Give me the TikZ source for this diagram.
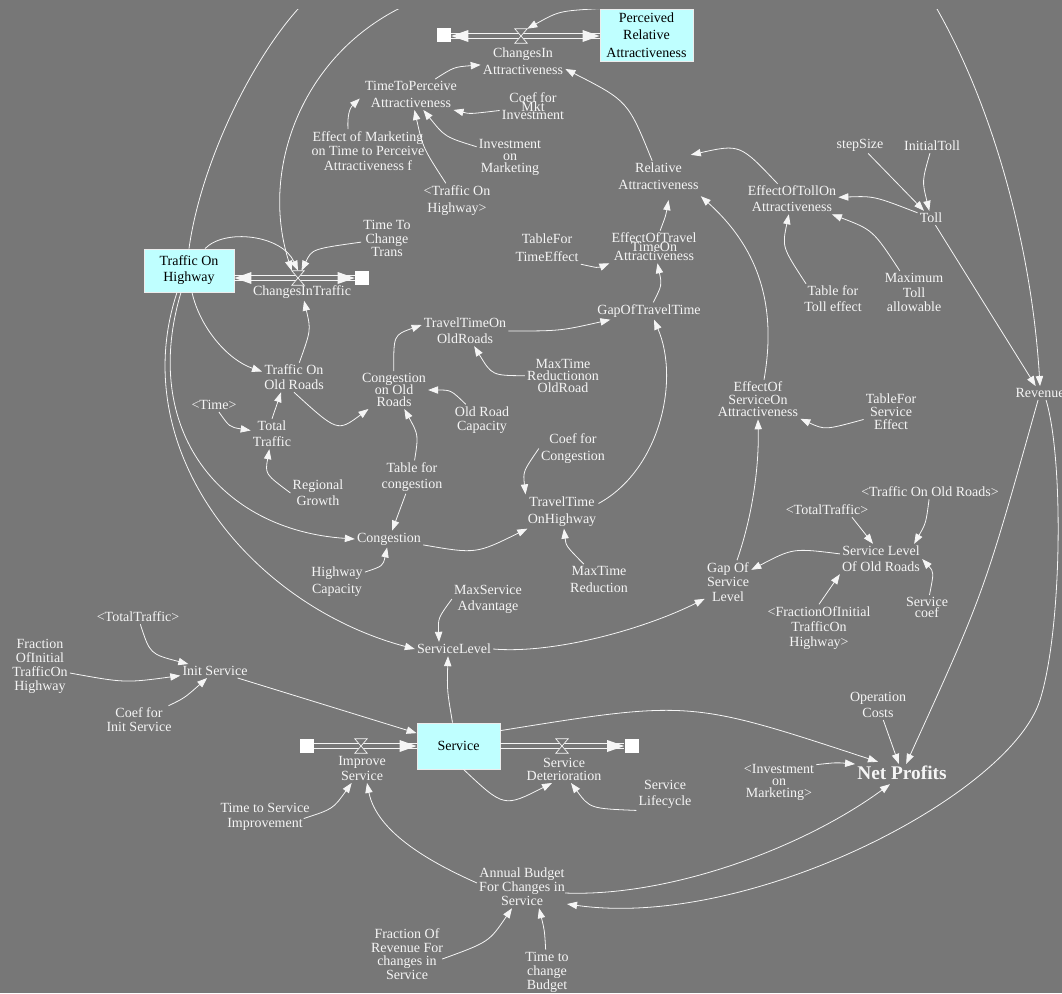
\documentclass[tikz,border=0pt]{standalone}
\usepackage{fontspec}
\setmainfont{Liberation Serif}
\usetikzlibrary{arrows.meta,calc}
\definecolor{bg}{RGB}{119,119,119}
\definecolor{stockfill}{RGB}{191,255,255}
\definecolor{fg}{RGB}{245,245,245}
\newcommand\lh[1]{\fontsize{10.5}{#1}\selectfont\lineskiplimit=-50pt\relax}

\begin{document}
\begin{tikzpicture}[x=0.75pt,y=-0.75pt,
  lbl/.style={text=fg, align=center, inner sep=1.5pt, font=\lh{#1}},
  lbl/.default=11.25,
  stock/.style={draw=white!85!gray, line width=0.6pt, fill=stockfill, text=black,
                align=center, inner sep=0pt, font=\lh{#1}},
  stock/.default=12,
  link/.style={draw=fg, line width=0.6pt, -{Triangle[length=7.5pt,width=5.5pt]}},
  pipeline/.style={draw=fg, line width=0.6pt},
  flowtip/.style={fill=fg},
  valve/.style={minimum width=9pt, minimum height=10.5pt, inner sep=0pt},
  valveline/.style={draw=fg, line width=0.5pt, fill=bg},
  cloudsq/.style={fill=white, minimum size=10.5pt, inner sep=0pt}
]
\fill[bg] (0,0) rectangle (1062,993);
\useasboundingbox (0,0) rectangle (1062,993);

\begin{scope}
\clip (0,9) rectangle (1062,993);

% ---------- stocks ----------
\node[stock=13.1, minimum width=69.75pt, minimum height=39pt] (perc) at (646.5,35) {Perceived\\Relative\\Attractiveness};
\node[stock=12, minimum width=67.5pt, minimum height=32.25pt] (toh) at (189,270.5) {Traffic On\\Highway};
\node[stock=12, minimum width=62.25pt, minimum height=34.5pt] (svc) at (458.5,746) {Service};

% ---------- sources, sinks and valves ----------
\node[cloudsq] (cA) at (444,35) {};
\node[valve] (vA) at (521,36) {};
\node[cloudsq] (cT) at (362,278) {};
\node[valve] (vT) at (298,278) {};
\node[cloudsq] (cI) at (306.5,746) {};
\node[valve] (vI) at (361,746) {};
\node[valve] (vD) at (562,746) {};
\node[cloudsq] (cD) at (631.5,746) {};

% ---------- auxiliaries ----------
\node[lbl=12.75] (cia) at (523,61.5) {ChangesIn\\Attractiveness};
\node[lbl=12.75] (ttp) at (411,94.5) {TimeToPerceive\\Attractiveness};
\node[lbl=6.4] (coefmkt) at (533,106.5) {Coef for\\Mkt\\Investment};
\node[lbl=10.9] (effmkt) at (368,151) {Effect of Marketing\\on Time to Perceive\\Attractiveness f};
\node[lbl=9] (invmkt) at (510,157) {Investment\\on\\Marketing};
\node[lbl=12.75] (tohs) at (457,200.5) {<Traffic On\\Highway>};
\node[lbl=12.75] (rel) at (658.5,176.5) {Relative\\Attractiveness};
\node[lbl] (stepsz) at (860,145) {stepSize};
\node[lbl] (itoll) at (932,146) {InitialToll};
\node[lbl=12] (efftoll) at (792,199) {EffectOfTollOn\\Attractiveness};
\node[lbl] (toll) at (931,218) {Toll};
\node[lbl=13.5] (tbltime) at (547,248) {TableFor\\TimeEffect};
\node[lbl=6.75] (efftt) at (654,247) {EffectOfTravel\\TimeOn\\Attractiveness};
\node[lbl=10.1] (ttct) at (387,238.5) {Time To\\Change\\Trans};
\node[lbl] (cit) at (302,292) {ChangesInTraffic};
\node[lbl=12] (tbltoll) at (833,299) {Table for\\Toll effect};
\node[lbl=10.9] (maxtoll) at (914,292.5) {Maximum\\Toll\\allowable};
\node[lbl] (gaptt) at (649,311) {GapOfTravelTime};
\node[lbl=12] (ttold) at (465,331) {TravelTimeOn\\OldRoads};
\node[lbl=11.25] (tor) at (294,377.5) {Traffic On\\Old Roads};
\node[lbl=9] (congold) at (394,390) {Congestion\\on Old\\Roads};
\node[lbl=9] (maxtold) at (563,376) {MaxTime\\Reductionon\\OldRoad};
\node[lbl=9.4] (effsvc) at (758,399.5) {EffectOf\\ServiceOn\\Attractiveness};
\node[lbl=9.75] (tblsvc) at (891,412) {TableFor\\Service\\Effect};
\node[lbl] (rev) at (1040,393) {Revenue};
\node[lbl] (time) at (214,405) {<Time>};
\node[lbl=12] (total) at (272,434) {Total\\Traffic};
\node[lbl=10.5] (oldcap) at (482,420) {Old Road\\Capacity};
\node[lbl=12] (tblcong) at (412,477) {Table for\\congestion};
\node[lbl=12.75] (coefcong) at (573,448.5) {Coef for\\Congestion};
\node[lbl=12] (regional) at (318,493) {Regional\\Growth};
\node[lbl] (ttorr) at (930,492) {<Traffic On Old Roads>};
\node[lbl] (tt2) at (827,510) {<TotalTraffic>};
\node[lbl=12.75] (tthigh) at (562,511.5) {TravelTime\\OnHighway};
\node[lbl] (cong) at (389,539) {Congestion};
\node[lbl=12] (slold) at (881,559) {Service Level\\Of Old Roads};
\node[lbl=10.9] (gapsvc) at (728,582) {Gap Of\\Service\\Level};
\node[lbl=12.75] (hwcap) at (337,581.5) {Highway\\Capacity};
\node[lbl=12.75] (maxtr) at (599,579.5) {MaxTime\\Reduction};
\node[lbl=12] (maxsvc) at (488,599) {MaxService\\Advantage};
\node[lbl=8.25] (svccoef) at (927,607.5) {Service\\coef};
\node[lbl=11.25] (fract2) at (819,628) {<FractionOfInitial\\TrafficOn\\Highway>};
\node[lbl] (tt1) at (138,617) {<TotalTraffic>};
\node[lbl=10.5] (fract1) at (40,666) {Fraction\\OfInitial\\TrafficOn\\Highway};
\node[lbl] (svclvl) at (454,649) {ServiceLevel};
\node[lbl] (init) at (215,671) {Init Service};
\node[lbl=10.5] (coefinit) at (139,720) {Coef for\\Init Service};
\node[lbl=12] (opcost) at (878,705) {Operation\\Costs};
\node[lbl=11.25] (improve) at (362,768.5) {Improve\\Service};
\node[lbl=9.75] (deter) at (564,769.5) {Service\\Deterioration};
\node[lbl=9] (invm2) at (779,782) {<Investment\\on\\Marketing>};
\node[lbl, font=\fontsize{14.5}{16}\selectfont\bfseries] (net) at (902,773) {Net Profits};
\node[lbl=12] (lifec) at (665,794) {Service\\Lifecycle};
\node[lbl=11.25] (tsi) at (265,816.5) {Time to Service\\Improvement};
\node[lbl=10.5] (budget) at (522,887) {Annual Budget\\For Changes in\\Service};
\node[lbl=10.1] (frrev) at (407,954) {Fraction Of\\Revenue For\\changes in\\Service};
\node[lbl=10.5] (tcb) at (547,972) {Time to\\change\\Budget};

% ---------- flows: pipes as pairs of parallel lines ----------
\foreach \d in {-2.2,2.2}{
  \draw[pipeline] ($(cA.east |- vA)+(0,\d)$) -- ($(perc.west |- vA)+(0,\d)$);
  \draw[pipeline] ($(toh.east |- vT)+(0,\d)$) -- ($(cT.west)+(0,\d)$);
  \draw[pipeline] ($(cI.east)+(0,\d)$) -- ($(svc.west |- vI)+(0,\d)$);
  \draw[pipeline] ($(svc.east |- vD)+(0,\d)$) -- ($(cD.west)+(0,\d)$);
}
\fill[flowtip] (cA.east |- vA) -- ++(17,-6) -- ++(0,12) -- cycle;
\fill[flowtip] (perc.west |- vA) -- ++(-17,-6) -- ++(0,12) -- cycle;
\fill[flowtip] (toh.east |- vT) -- ++(17,-6) -- ++(0,12) -- cycle;
\fill[flowtip] (cT.west) -- ++(-17,-6) -- ++(0,12) -- cycle;
\fill[flowtip] (svc.west |- vI) -- ++(-17,-6) -- ++(0,12) -- cycle;
\fill[flowtip] (cD.west) -- ++(-17,-6) -- ++(0,12) -- cycle;
\foreach \v in {vA,vT,vI,vD}{
  \draw[valveline] (\v.north west) -- (\v.north east) -- (\v.south west) -- (\v.south east) -- cycle;
}

% ---------- attractiveness links ----------
\draw[link] (perc.north west) .. controls (559,11) .. (vA.north east);
\draw[link] (ttp) .. controls (454,67) .. (cia);
\draw[link] (rel) .. controls (628,101) .. (cia.-10);
\draw[link] (coefmkt) .. controls (470,114) .. (ttp.-20);
\draw[link] (invmkt) .. controls (445,137) .. (ttp);
\draw[link] ($(effmkt.north)+(-20,0)$) .. controls (347,110) and (352,106) .. ($(ttp.west)+(-3,4)$);
\draw[link] (tohs) .. controls (423,148) .. (ttp);

% ---------- long arcs ----------
\draw[link] (perc.north west) .. controls (522.8,-31.1) and (426.5,-21.2) .. (358.4,35.2)
            .. controls (290.3,91.6) and (264.1,184.1) .. (vT.north west);
\draw[link] (toh.north) .. controls (200,168) and (248,65) .. (298,9)
            .. controls (463,-178) and (815,-208) .. (937,9)
            .. controls (996,113) and (1032,253) .. (rev.north);

% ---------- toll ----------
\draw[link] (efftoll) .. controls (740,144) .. ($(rel.north east)+(-10,-6)$);
\draw[link] (stepsz) -- (toll);
\draw[link] (itoll) .. controls (922,181) .. (toll);
\draw[link] (toll) .. controls (874,196) .. (efftoll);
\draw[link] (toll) -- (rev);
\draw[link] ($(tbltoll.north)+(-27,0)$) .. controls (782,247) .. (efftoll);
\draw[link] (maxtoll) .. controls (873,230) .. (efftoll);

% ---------- travel time ----------
\draw[link] (tbltime.south east) .. controls (598,268) .. (efftt.south west);
\draw[link] (efftt) .. controls (666,215) .. ($(rel.south)+(10,8)$);
\draw[link] (gaptt) .. controls (662,285) .. (efftt);
\draw[link] (ttold) .. controls (560,331) .. (gaptt);
\draw[link] ($(tthigh.east)+(0,-8)$) .. controls (660,470) and (680,380) .. ($(gaptt.south)+(5,0)$);
\draw[link] ($(effsvc.north)+(6,0)$) .. controls (778,300) and (755,245) .. ($(rel.south east)+(0,4)$);
\draw[link] (tblsvc) .. controls (825,430) .. (effsvc);

% ---------- traffic ----------
\draw[link] ($(toh.north)+(16,0)$) .. controls (225,228) and (282,235) .. (vT.north);
\draw[link] (ttct) .. controls (312,249) .. (vT);
\draw[link] (tor) .. controls (311,330) .. (cit);
\draw[link] ($(toh.south)+(3,0)$) .. controls (200,328) and (228,360) .. ($(tor.west)+(0,-6)$);
\draw[link] (total.north) -- ($(tor.south)+(-13,0)$);
\draw[link] (time) .. controls (229.5,427) .. (total);
\draw[link] (regional.west) .. controls (265,474) .. (total);
\draw[link] (tor.south) .. controls (337.5,432) .. (congold);
\draw[link] (congold) .. controls (393.5,335) .. ($(ttold.west)+(0,-6)$);
\draw[link] (maxtold) .. controls (492,375.5) .. (ttold);
\draw[link] (oldcap) .. controls (451,390) .. (congold);
\draw[link] (tblcong) .. controls (418.5,435) .. (congold);
\draw[link] (tblcong) -- (cong);
\draw[link] ($(toh.south)+(-8,0)$) .. controls (140,430) and (220,530) .. (cong.west);
\draw[link] ($(toh.south)+(-12,0)$) .. controls (125,450) and (250,605) .. (svclvl.west);
\draw[link] (hwcap) .. controls (383,566) .. (cong);
\draw[link] (cong) .. controls (476,554) .. (tthigh);
\draw[link] (coefcong.west) .. controls (523,471.5) .. (tthigh.north west);
\draw[link] (maxtr) .. controls (566,546) .. (tthigh);

% ---------- service level ----------
\draw[link] (slold) .. controls (793,548) .. (gapsvc);
\draw[link] ($(tt2.south)+(25,0)$) -- ($(slold.north)+(-8,0)$);
\draw[link] (ttorr) .. controls (926,523) .. ($(slold.north east)+(-8,0)$);
\draw[link] (svccoef) .. controls (934,572) .. (slold.east);
\draw[link] (fract2.north) -- (slold.south west);
\draw[link] ($(gapsvc.north)+(9,0)$) .. controls (754.5,510) and (759,460) .. (effsvc.south);
\draw[link] (svclvl.east) .. controls (553,654) and (642,630) .. ($(gapsvc.south west)+(0,-5)$);
\draw[link] (maxsvc.west) .. controls (438,618) .. ($(svclvl.north)+(-15,0)$);
\draw[link] ($(svc.north)+(-6,0)$) .. controls (447,690) .. ($(svclvl.south)+(-6,0)$);

% ---------- initial service ----------
\draw[link] (tt1) .. controls (150,654) .. (init);
\draw[link] ($(fract1.east)+(0,7)$) .. controls (125,683) .. (init);
\draw[link] (coefinit) .. controls (184.5,698) .. (init);
\draw[link] (init) -- (svc);

% ---------- profits and budget ----------
\draw[link] ($(svc.north east)+(0,8)$) .. controls (690,700) .. ($(net.north)+(-24,-2)$);
\draw[link] ($(invm2.north east)+(0,3)$) .. controls (836,762.5) .. ($(net.west)+(0,-9)$);
\draw[link] (opcost) -- (net);
\draw[link] (rev) .. controls (984,593) .. (net);
\draw[link] ($(rev.south)+(6,0)$) .. controls (1064,460) and (1062,630) .. (1040,700)
            .. controls (1010,795) and (750,930) .. ($(budget.east)+(0,17)$);
\draw[link] ($(budget.east)+(-2,6)$) .. controls (667,897) and (800,850) .. ($(net.south)+(-12,2)$);
\draw[link] ($(budget.west)+(0,-4)$) .. controls (432,863) and (377,833) .. ($(improve.south)+(5,0)$);
\draw[link] ($(tsi.east)+(-8,2)$) .. controls (333,809) .. (improve);
\draw[link] ($(svc.south)+(5,0)$) .. controls (504,807.5) .. ($(deter.south)+(-12,0)$);
\draw[link] (lifec.south west) .. controls (590,808.5) .. ($(deter.south)+(7,0)$);
\draw[link] ($(frrev.east)+(-3,5)$) .. controls (489,942) .. ($(budget.south)+(-10,0)$);
\draw[link] (tcb) .. controls (544.5,930) .. ($(budget.south)+(17,0)$);
\end{scope}
\end{tikzpicture}
\end{document}
